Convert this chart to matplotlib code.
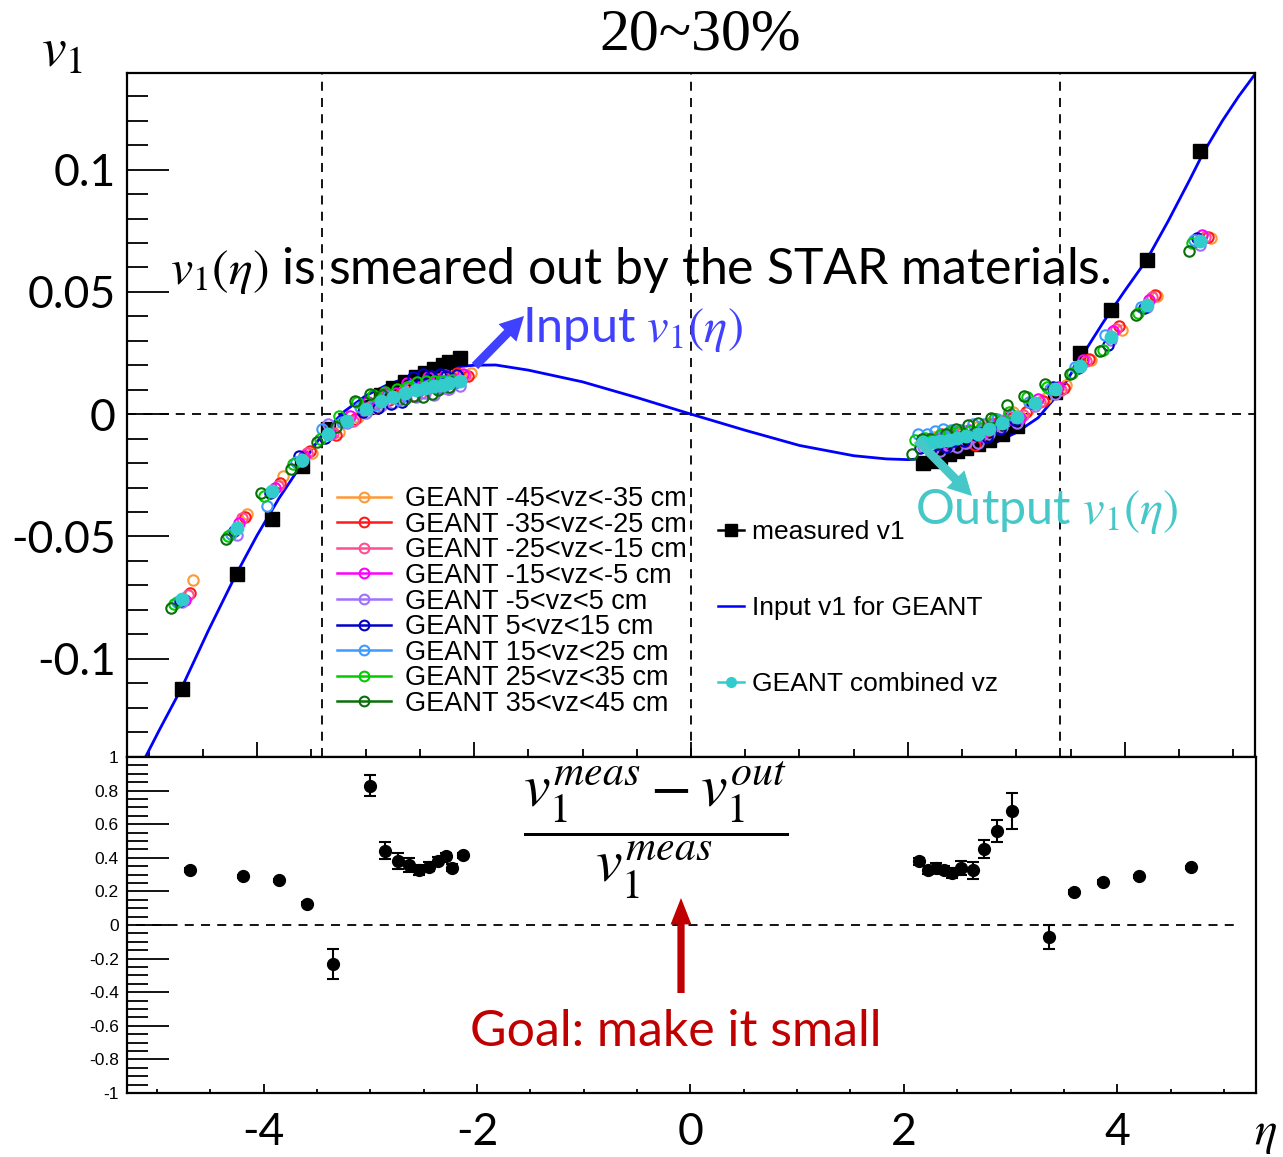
import matplotlib
matplotlib.use("Agg")
import matplotlib.pyplot as plt
from matplotlib.lines import Line2D
from matplotlib.ticker import MultipleLocator

plt.rcParams['mathtext.fontset'] = 'stix'
plt.rcParams['axes.unicode_minus'] = False

# input v1(eta) curve
eta_input = [-5.05, -4.90, -4.70, -4.45, -4.20, -4.00, -3.80, -3.60, -3.45, -3.36, -3.20, -3.00, -2.80,
             -2.60, -2.40, -2.20, -2.00, -1.80, -1.50, -1.00, -0.50, 0.0, 0.50, 1.00, 1.50, 1.80, 2.00,
             2.20, 2.40, 2.60, 2.80, 3.00, 3.20, 3.40, 3.60, 3.80, 4.00, 4.20, 4.40, 4.60, 4.725,
             4.90, 5.05, 5.20]
v1_input = [-0.1420, -0.1290, -0.1123, -0.0885, -0.0660, -0.0495, -0.0345, -0.0212, -0.0115, -0.0064,
            0.0010, 0.0075, 0.0120, 0.0152, 0.0176, 0.0192, 0.0200, 0.0201, 0.0180, 0.0132, 0.0068,
            0.0, -0.0066, -0.0128, -0.0170, -0.0183, -0.0186, -0.0180, -0.0168, -0.0148, -0.0118,
            -0.0075, -0.0015, 0.0090, 0.0235, 0.0375, 0.0505, 0.0630, 0.0790, 0.0960, 0.1070,
            0.1200, 0.1300, 0.1390]

# measured v1 and ratio (same eta bins)
eta_meas = [-4.69, -4.19, -3.86, -3.59, -3.35, -3.00, -2.86, -2.745, -2.64, -2.54, -2.45, -2.37, -2.29, -2.23, -2.13,
            2.14, 2.23, 2.30, 2.375, 2.45, 2.54, 2.65, 2.75, 2.87, 3.01, 3.36, 3.59, 3.87, 4.20, 4.69]
v1_meas = [-0.1123, -0.0653, -0.0427, -0.0214, -0.0060, 0.0030, 0.0080, 0.0105, 0.0130, 0.0150, 0.0168, 0.0185, 0.0200, 0.0212, 0.0229,
           -0.0200, -0.0190, -0.0175, -0.0162, -0.0150, -0.0137, -0.0124, -0.0106, -0.0082, -0.0050, 0.0092, 0.0249, 0.0424, 0.0632, 0.1078]
ratio = [0.328, 0.289, 0.265, 0.127, -0.233, 0.828, 0.443, 0.382, 0.358, 0.328, 0.348, 0.382, 0.411, 0.342, 0.415,
         0.378, 0.328, 0.342, 0.328, 0.312, 0.338, 0.325, 0.453, 0.560, 0.678, -0.073, 0.196, 0.255, 0.289, 0.344]
ratio_err = [0.01, 0.01, 0.01, 0.01, 0.089, 0.062, 0.052, 0.047, 0.040, 0.030, 0.025, 0.020, 0.020, 0.020, 0.015,
             0.020, 0.025, 0.030, 0.025, 0.030, 0.043, 0.050, 0.054, 0.064, 0.109, 0.071, 0.01, 0.01, 0.01, 0.01]

# GEANT output
eta_geant = [-4.69, -4.19, -3.86, -3.59, -3.35, -3.17, -3.00, -2.86, -2.745, -2.64, -2.54, -2.45, -2.37, -2.29, -2.23, -2.13,
             2.14, 2.23, 2.30, 2.375, 2.45, 2.54, 2.65, 2.75, 2.87, 3.01, 3.17, 3.36, 3.59, 3.87, 4.20, 4.69]
v1_comb = [-0.0755, -0.0464, -0.0313, -0.0187, -0.0082, -0.0028, 0.0020, 0.0052, 0.0070, 0.0086, 0.0100, 0.0108, 0.0115, 0.0121, 0.0127, 0.0134,
           -0.0115, -0.0112, -0.0108, -0.0104, -0.0098, -0.0090, -0.0080, -0.0062, -0.0036, -0.0012, 0.0045, 0.0103, 0.0198, 0.0314, 0.0448, 0.0707]

vz_m45 = [-0.0679, -0.0410, -0.0252, -0.0159, -0.0072, -0.0013, 0.0025, 0.0072, 0.0100, 0.0111, 0.0110, 0.0123, 0.0135, 0.0146, 0.0157, 0.0169,
          -0.0095, -0.0087, -0.0073, -0.0064, -0.0068, -0.0052, -0.0037, -0.0027, 0.0008, 0.0018, 0.0065, 0.0118, 0.0222, 0.0346, 0.0484, 0.0720]
vz_m35 = [-0.0733, -0.0419, -0.0282, -0.0152, -0.0087, -0.0018, 0.0040, 0.0057, 0.0085, 0.0076, 0.0120, 0.0133, 0.0125, 0.0151, 0.0167, 0.0154,
          -0.0100, -0.0082, -0.0088, -0.0071, -0.0118, -0.0126, -0.0070, -0.0037, -0.0021, 0.0008, 0.0055, 0.0108, 0.0226, 0.0360, 0.0488, 0.0723]
vz_m25 = [-0.0740, -0.0424, -0.0293, -0.0157, -0.0077, -0.0028, 0.0035, 0.0077, 0.0060, 0.0106, 0.0085, 0.0113, 0.0145, 0.0101, 0.0137, 0.0159,
          -0.0105, -0.0122, -0.0093, -0.0099, -0.0078, -0.0095, -0.0055, -0.0047, -0.0006, -0.0002, 0.0050, 0.0098, 0.0218, 0.0349, 0.0478, 0.0725]
vz_m15 = [-0.0760, -0.0444, -0.0303, -0.0172, -0.0082, -0.0008, 0.0050, 0.0087, 0.0085, 0.0126, 0.0110, 0.0153, 0.0135, 0.0161, 0.0142, 0.0164,
          -0.0120, -0.0102, -0.0123, -0.0084, -0.0093, -0.0065, -0.0090, -0.0042, -0.0026, -0.0017, 0.0060, 0.0113, 0.0223, 0.0339, 0.0468, 0.0733]
vz_m5 = [-0.0767, -0.0494, -0.0318, -0.0192, -0.0042, -0.0038, 0.0005, 0.0032, 0.0045, 0.0076, 0.0070, 0.0088, 0.0080, 0.0106, 0.0102, 0.0114,
         -0.0135, -0.0142, -0.0150, -0.0129, -0.0133, -0.0120, -0.0116, -0.0082, -0.0051, -0.0037, 0.0035, 0.0083, 0.0193, 0.0304, 0.0438, 0.0692]
vz_p5 = [-0.0763, -0.0479, -0.0323, -0.0170, -0.0097, -0.0023, 0.0010, 0.0027, 0.0040, 0.0051, 0.0150, 0.0163, 0.0155, 0.0166, 0.0157, 0.0159,
         -0.0140, -0.0147, -0.0123, -0.0134, -0.0108, -0.0110, -0.0085, -0.0092, -0.0061, -0.0022, 0.0045, 0.0113, 0.0188, 0.0283, 0.0433, 0.0720]
vz_p15 = [-0.0770, -0.0489, -0.0375, -0.0197, -0.0062, -0.0033, 0.0030, 0.0037, 0.0075, 0.0056, 0.0115, 0.0098, 0.0120, 0.0101, 0.0137, 0.0129,
          -0.0080, -0.0082, -0.0068, -0.0059, -0.0063, -0.0065, -0.0040, -0.0042, -0.0021, -0.0002, 0.0050, 0.0103, 0.0193, 0.0323, 0.0438, 0.0712]
vz_p25 = [-0.0775, -0.0499, -0.0333, -0.0202, -0.0102, -0.0008, 0.0050, 0.0077, 0.0090, 0.0101, 0.0110, 0.0133, 0.0135, 0.0136, 0.0137, 0.0139,
          -0.0105, -0.0097, -0.0103, -0.0084, -0.0073, -0.0075, -0.0070, -0.0057, -0.0021, 0.0008, 0.0070, 0.0113, 0.0168, 0.0264, 0.0413, 0.0700]
vz_p35 = [-0.0792, -0.0509, -0.0323, -0.0225, -0.0112, -0.0053, 0.0055, 0.0082, 0.0080, 0.0071, 0.0060, 0.0073, 0.0070, 0.0081, 0.0097, 0.0109,
          -0.0165, -0.0100, -0.0103, -0.0114, -0.0083, -0.0060, -0.0045, -0.0037, -0.0016, 0.0038, 0.0075, 0.0123, 0.0163, 0.0259, 0.0406, 0.0669]

# each vz class sits at a slightly shifted eta
vz_eta_shift = [0.10, 0.075, 0.05, 0.025, 0.0, -0.025, -0.05, -0.075, -0.10]
vz_labels = ['GEANT -45<vz<-35 cm', 'GEANT -35<vz<-25 cm', 'GEANT -25<vz<-15 cm', 'GEANT -15<vz<-5 cm',
             'GEANT -5<vz<5 cm', 'GEANT 5<vz<15 cm', 'GEANT 15<vz<25 cm', 'GEANT 25<vz<35 cm', 'GEANT 35<vz<45 cm']
vz_colors = ['#ff9933', '#ff1a1a', '#ff4d94', '#ff00ff', '#a070ff', '#0000c8', '#3d9aff', '#00cc00', '#0a6e0a']
vz_series = [vz_m45, vz_m35, vz_m25, vz_m15, vz_m5, vz_p5, vz_p15, vz_p25, vz_p35]

W, H = 1283, 1157
fig = plt.figure(figsize=(W / 100, H / 100), dpi=100)
ax = fig.add_axes([127 / W, 1 - 757 / H, 1128 / W, 684 / H])
ax2 = fig.add_axes([127 / W, 1 - 1093 / H, 1129 / W, 336 / H])

# ---- top panel
ax.plot(eta_input, v1_input, color='#0000ff', lw=2, zorder=2)
ax.plot(eta_meas, v1_meas, 's', color='black', ms=9.5, zorder=3)
for vals, shift, col in zip(vz_series, vz_eta_shift, vz_colors):
    ax.plot([e + shift for e in eta_geant], vals, 'o', mfc='none', mec=col, mew=1.5, ms=7.5, zorder=4)
ax.plot(eta_geant, v1_comb, 'o', color='#33cccc', ms=9, zorder=5)

ax.axhline(0, color='black', ls=(0, (5, 4)), lw=1.3, zorder=1)
for xv in [-3.4, 0, 3.4]:
    ax.axvline(xv, color='black', ls=(0, (5, 4)), lw=1.3, zorder=1)

ax.set_xlim(-5.2, 5.2)
ax.set_ylim(-0.1402, 0.1395)
ax.set_yticks([-0.1, -0.05, 0, 0.05, 0.1])
ax.set_yticklabels(['-0.1', '-0.05', '0', '0.05', '0.1'], family='Lato', fontsize=32)
ax.yaxis.set_minor_locator(MultipleLocator(0.01))
ax.set_xticks([-4, -2, 0, 2, 4])
ax.xaxis.set_minor_locator(MultipleLocator(0.5))
ax.tick_params(axis='y', which='major', direction='in', length=30, width=1.3, pad=8)
ax.tick_params(axis='y', which='minor', direction='in', length=15, width=1.3)
ax.tick_params(axis='x', which='major', direction='in', length=11, width=1.3, labelbottom=False)
ax.tick_params(axis='x', which='minor', direction='in', length=6, width=1.3)
for s in ax.spines.values():
    s.set_linewidth(1.6)

vz_handles = [Line2D([], [], color=c, lw=1.8, marker='o', mfc='none', mec=c, mew=1.5, ms=7) for c in vz_colors]
leg1 = ax.legend(vz_handles, vz_labels, loc='upper left', bbox_to_anchor=(0.186, 0.396), frameon=False,
                 prop={'family': 'Liberation Sans', 'size': 19.5}, handlelength=2.0, handletextpad=0.5,
                 labelspacing=-0.015, borderpad=0, borderaxespad=0)
ax.add_artist(leg1)
other_handles = [Line2D([], [], color='black', lw=1.8, marker='s', ms=9),
                 Line2D([], [], color='#0000ff', lw=1.8),
                 Line2D([], [], color='#33cccc', lw=1.8, marker='o', ms=7)]
ax.legend(other_handles, ['measured v1', 'Input v1 for GEANT', 'GEANT combined vz'], loc='upper left',
          bbox_to_anchor=(0.524, 0.346), frameon=False, prop={'family': 'Liberation Sans', 'size': 19},
          handlelength=1.0, handletextpad=0.3, labelspacing=1.96, borderpad=0, borderaxespad=0)

# ---- bottom panel
ax2.errorbar(eta_meas, ratio, yerr=ratio_err, fmt='o', color='black', ms=8.5, capsize=4,
             elinewidth=1.5, capthick=1.5, zorder=3)
ax2.hlines(0, -5.2, 5.15, colors='black', linestyles=(0, (5, 4)), lw=1.3)
ax2.set_xlim(-5.28, 5.30)
ax2.set_ylim(-1, 1)
ax2.set_xticks([-4, -2, 0, 2, 4])
ax2.set_xticklabels(['-4', '-2', '0', '2', '4'], family='Lato', fontsize=32)
ax2.xaxis.set_minor_locator(MultipleLocator(0.5))
yt = [-1, -0.8, -0.6, -0.4, -0.2, 0, 0.2, 0.4, 0.6, 0.8, 1]
ax2.set_yticks(yt)
ax2.set_yticklabels(['-1', '-0.8', '-0.6', '-0.4', '-0.2', '0', '0.2', '0.4', '0.6', '0.8', '1'],
                    family='Liberation Sans', fontsize=12.5)
ax2.yaxis.set_minor_locator(MultipleLocator(0.05))
ax2.tick_params(axis='y', which='major', direction='in', length=30, width=1.3, pad=6)
ax2.tick_params(axis='y', which='minor', direction='in', length=15, width=1.3)
ax2.tick_params(axis='x', which='major', direction='in', length=6.5, width=1.3, pad=14)
ax2.tick_params(axis='x', which='minor', direction='in', length=3, width=1.3)
for s in ax2.spines.values():
    s.set_linewidth(1.6)

# ---- annotations
fig.text(700 / W, 1 - 35 / H, '20~30%', family='Liberation Serif', fontsize=43, ha='center', va='center')
fig.text(62 / W, 1 - 52 / H, r'$v_1$', fontsize=40, ha='center', va='center')
fig.text(1265 / W, 1 - 1133 / H, r'$\eta$', fontsize=34, ha='center', va='center')
fig.text(170 / W, 1 - 270 / H, r'$v_1(\eta)$ is smeared out by the STAR materials.', family='Lato',
         fontsize=36, ha='left', va='center')
fig.text(522 / W, 1 - 330 / H, r'Input $v_1(\eta)$', family='Lato', color='#4040ff', fontsize=35,
         ha='left', va='center')
fig.text(915 / W, 1 - 512 / H, r'Output $v_1(\eta)$', family='Lato', color='#46c8c8', fontsize=35,
         ha='left', va='center')
fig.text(676 / W, 1 - 1032 / H, 'Goal: make it small', family='Lato', color='#c00000', fontsize=36,
         ha='center', va='center')
fig.text(656 / W, 1 - 830 / H, r'$\dfrac{v_1^{meas}-v_1^{out}}{v_1^{meas}}$', fontsize=43,
         ha='center', va='center')

def arrow(tail, head, color, tw, hw, hl):
    fig.add_artist(matplotlib.patches.FancyArrowPatch(
        (tail[0] / W, 1 - tail[1] / H), (head[0] / W, 1 - head[1] / H), transform=fig.transFigure,
        arrowstyle=f'simple,head_length={hl},head_width={hw},tail_width={tw}', mutation_scale=20,
        fc=color, ec='none', shrinkA=0, shrinkB=0))

arrow((475, 366), (524, 316), '#4040ff', 0.32, 0.9, 0.85)
arrow((917, 440), (972, 496), '#46c8c8', 0.32, 0.9, 0.85)
arrow((681, 993), (681, 898), '#c00000', 0.26, 0.75, 0.95)

fig.savefig('out.png', dpi=100)
